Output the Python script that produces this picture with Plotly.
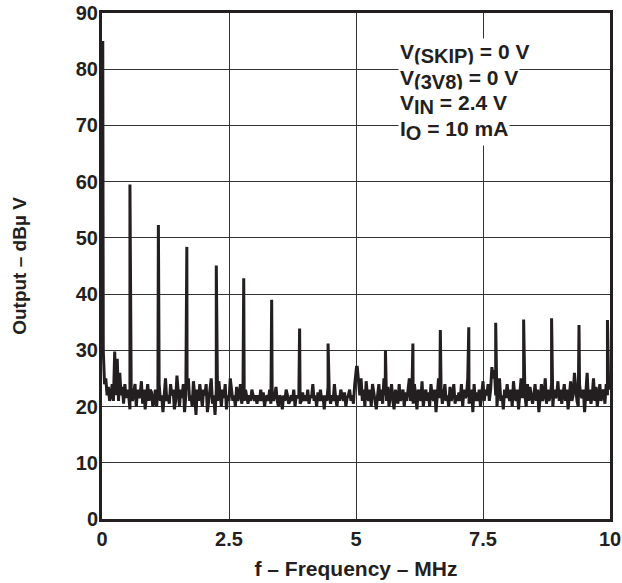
import plotly.graph_objects as go

# Spectral lines (MHz, dBuV)
peak_freq = [0.015, 0.55, 1.11, 1.67, 2.25, 2.79, 3.34, 3.89, 4.45, 5.01, 5.58,
             6.12, 6.66, 7.22, 7.75, 8.30, 8.85, 9.39, 9.95]
peak_level = [85, 59.5, 52.3, 48.4, 45.1, 42.8, 39.0, 33.9, 31.2, 27.0, 30.0,
              31.2, 33.6, 34.1, 34.9, 35.5, 35.7, 34.5, 35.4]

# Noise floor readings, one list per MHz span
noise_0_1 = [30, 24, 25, 22, 23.5, 21, 22, 24, 21, 29.8, 22, 28.5, 21, 26, 22, 23.5, 20.5, 24, 21.5, 23,
             22, 19.5, 23, 21, 22.5, 24, 20, 23, 21.5, 22, 24.5, 20.5, 23, 19.5, 22, 24, 21, 23, 22.5, 20]
noise_1_2 = [21, 23, 20, 22.5, 24, 21, 22, 19, 23, 25, 21, 22, 20.5, 24, 22, 23, 19.5, 21, 25.5, 22,
             20, 23, 21.5, 24, 19, 22, 23, 25, 21, 22, 20, 24.5, 22, 18.5, 23, 21, 24, 22, 20, 23]
noise_2_3 = [22, 24, 19, 21, 23, 25, 20.5, 22, 18.5, 23, 21, 24.5, 22, 20, 23, 21.5, 24, 19.5, 22, 21,
             25, 23, 21, 22, 20, 23.5, 21, 22, 24, 20.5, 22, 21, 23, 21.5, 20.5, 22, 21, 23, 22, 21]
noise_3_4 = [22, 20.5, 22, 21, 23, 21, 22.5, 20, 21.5, 22, 21, 23, 20.5, 22, 21, 22, 23.5, 21, 20, 22,
             21.5, 19.5, 22, 21, 23, 22, 20.5, 21, 22, 21, 23, 20, 22, 21.5, 22, 20.5, 21, 22.5, 21, 22]
noise_4_5 = [21, 23, 20.5, 22, 21.5, 24, 21, 22, 20, 22.5, 21, 23, 21, 22, 19.5, 22, 21, 23.5, 22, 20.5,
             22, 21, 24, 21.5, 20, 22, 21, 23, 22, 21, 22.5, 20, 21.5, 22, 23, 21, 22, 20.5, 24, 26]
noise_5_6 = [27, 24, 22, 25, 21, 23, 20, 24.5, 22, 21, 23, 20, 24, 22.5, 21, 19.5, 22, 24, 21, 23,
             20.5, 25, 22, 21, 23.5, 20, 22, 24, 21, 19.5, 23, 22, 20.5, 24, 21, 22, 23, 20, 22.5, 21]
noise_6_7 = [23, 25, 21, 22, 20.5, 24, 21.5, 19.5, 23, 22, 21, 24.5, 20, 22, 23, 21, 22.5, 20, 24, 22,
             21, 23, 19, 22, 25, 21.5, 23, 20.5, 22, 24, 21, 22, 20, 23.5, 21, 22, 24, 20.5, 22, 21]
noise_7_8 = [22.5, 21, 24, 20, 23, 21.5, 22, 25, 20.5, 22, 23, 19, 24, 21, 22.5, 21, 23, 20, 22, 24.5,
             21, 23, 22, 24, 21, 23, 27, 25, 26.5, 22, 20, 23, 25, 21, 22, 19.5, 23, 21.5, 24, 22]
noise_8_9 = [21, 23, 20, 24.5, 22, 21, 23, 19.5, 22, 25, 21.5, 23, 22, 20, 24, 21, 23.5, 22, 20.5, 22,
             24, 21, 23, 19, 22.5, 24, 21, 22, 25, 20.5, 23, 21, 22, 24, 20, 23, 21.5, 22, 24.5, 21]
noise_9_10 = [23, 20.5, 22, 24, 21, 23, 19.5, 22, 24.5, 21, 22, 26, 23, 21, 20, 24, 22, 21.5, 23, 19,
              22, 26, 21, 23, 20.5, 22, 25, 21, 23.5, 20, 22, 24, 21, 22.5, 23, 20.5, 24, 22, 23, 25]

noise_blocks = [noise_0_1, noise_1_2, noise_2_3, noise_3_4, noise_4_5,
                noise_5_6, noise_6_7, noise_7_8, noise_8_9, noise_9_10]

x_tick_vals = [0, 2.5, 5, 7.5, 10]
x_tick_text = ["0", "2.5", "5", "7.5", "10"]
y_tick_vals = [0, 10, 20, 30, 40, 50, 60, 70, 80, 90]

# Test conditions: (main symbol, subscript, rest)
cond_main = ["V", "V", "V", "I"]
cond_sub = ["(SKIP)", "(3V8)", "IN", "O"]
cond_rest = [" = 0 V", " = 0 V", " = 2.4 V", " = 10 mA"]

# Assemble spectrum trace
pts = []
for k, block in enumerate(noise_blocks):
    n = len(block)
    for i, v in enumerate(block):
        pts.append((k + (i + 1) / n, v))
for f, lv in zip(peak_freq, peak_level):
    pts.append((f, lv))
pts.sort(key=lambda p: p[0])
xs = [p[0] for p in pts]
ys = [p[1] for p in pts]

INK = "#231f20"
FONT = "Liberation Sans, Arial, sans-serif"

fig = go.Figure()
fig.add_trace(go.Scatter(x=xs, y=ys, mode="lines",
                         line=dict(color=INK, width=3),
                         hoverinfo="skip", showlegend=False))

SUB = '<sub><span style="font-size:20px">{}</span></sub>'
line_top = 85.6
line_step = 4.6
for j, (m, s, r) in enumerate(zip(cond_main, cond_sub, cond_rest)):
    fig.add_annotation(
        x=5.83, y=line_top - j * line_step, xref="x", yref="y",
        xanchor="left", yanchor="top", align="left", showarrow=False,
        bgcolor="white", borderpad=1,
        text=m + SUB.format(s) + r,
        font=dict(family=FONT, size=21, color=INK, weight="bold"),
    )

axis_common = dict(
    showgrid=True, gridcolor="#333333", gridwidth=1,
    showline=True, linecolor=INK, linewidth=3, mirror=True,
    ticks="", zeroline=False, automargin=False, ticklabeloverflow="allow",
    tickfont=dict(family=FONT, size=20, color=INK, weight="bold"),
)

fig.update_layout(
    width=622, height=583,
    margin=dict(l=102, r=12, t=13, b=64),
    paper_bgcolor="white", plot_bgcolor="white",
    xaxis=dict(range=[0, 10], tickvals=x_tick_vals, ticktext=x_tick_text,
               title=dict(text="f – Frequency – MHz", standoff=13,
                          font=dict(family=FONT, size=21, color=INK, weight="bold")),
               **axis_common),
    yaxis=dict(range=[0, 90], tickvals=y_tick_vals, ticklabelstandoff=-3,
               title=dict(text="Output – dBµ V", standoff=45,
                          font=dict(family=FONT, size=19, color=INK, weight="bold")),
               **axis_common),
)

# remove the default page margin so the figure fills the window exactly
fig.write_html("out.html",
               config={"displayModeBar": False},
               post_script="document.body.style.margin='0';document.body.style.overflow='hidden';")
